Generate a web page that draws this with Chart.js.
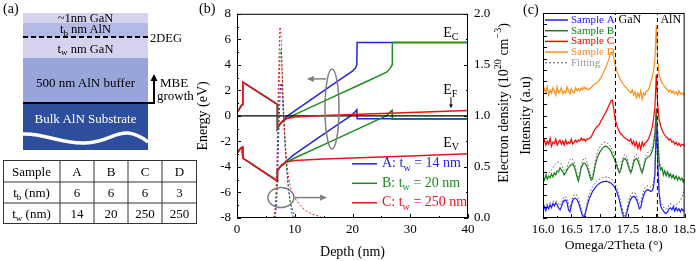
<!DOCTYPE html>
<html>
<head>
<meta charset="utf-8">
<script src="https://cdn.jsdelivr.net/npm/chart.js@4.4.0/dist/chart.umd.min.js"></script>
<style>
html, body { margin: 0; padding: 0; background: #fff; }
body { width: 700px; height: 261px; position: relative; overflow: hidden; font-family: "Liberation Serif", serif; }
#schem { position: absolute; left: 0; top: 0; }
#bandWrap { position: absolute; left: 180px; top: 0; width: 338px; height: 261px; }
#xrdWrap { position: absolute; left: 518px; top: 0; width: 182px; height: 261px; }
.plabel { position: absolute; font-size: 14px; line-height: 14px; }
</style>
</head>
<body>
<div id="bandWrap"><canvas id="bandChart"></canvas></div>
<div id="xrdWrap"><canvas id="xrdChart"></canvas></div>
<div class="plabel" style="left:199px;top:2px">(b)</div>
<div class="plabel" style="left:523px;top:3px">(c)</div>

<svg id="schem" width="200" height="261" font-family="Liberation Serif, serif">
  <text x="3" y="13" font-size="14">(a)</text>
  <rect x="23" y="13" width="125" height="10" fill="#d6d3ef"/>
  <rect x="23" y="23" width="125" height="14" fill="#b5b9e6"/>
  <rect x="23" y="37" width="125" height="21" fill="#d6d3ef"/>
  <rect x="23" y="58" width="125" height="45" fill="#98a5db"/>
  <rect x="23" y="103" width="125" height="47" fill="#2d4e9d"/>
  <path d="M23,134 C45,133 60,144 85,143 C108,142 114,132 128,133 C138,134 144,139 148,142" stroke="#fff" stroke-width="3.5" fill="none"/>
  <text x="85.5" y="21.5" font-size="12.5" text-anchor="middle">~1nm GaN</text>
  <text x="85.5" y="33" font-size="12.5" text-anchor="middle">t<tspan dy="2.5" font-size="9">b</tspan><tspan dy="-2.5"> nm AlN</tspan></text>
  <line x1="23" y1="37" x2="150" y2="37" stroke="#000" stroke-width="2" stroke-dasharray="5,3"/>
  <text x="150" y="41.5" font-size="12.5">2DEG</text>
  <text x="85.5" y="52.5" font-size="12.5" text-anchor="middle">t<tspan dy="2.5" font-size="9">w</tspan><tspan dy="-2.5"> nm GaN</tspan></text>
  <text x="85.5" y="86.5" font-size="13" text-anchor="middle">500 nm AlN buffer</text>
  <polyline points="23,103 154,103 154,80" stroke="#000" stroke-width="2" fill="none"/>
  <polygon points="150.5,81 157.5,81 154,74" fill="#000"/>
  <text x="160" y="87" font-size="13">MBE</text>
  <text x="157" y="100" font-size="13">growth</text>
  <text x="85.5" y="122.5" font-size="13" fill="#fff" text-anchor="middle">Bulk AlN Substrate</text>

  <rect x="3.5" y="160.5" width="193" height="63" fill="none" stroke="#333"/>
  <line x1="3.5" y1="182" x2="196.5" y2="182" stroke="#333"/>
  <line x1="3.5" y1="203" x2="196.5" y2="203" stroke="#333"/>
  <line x1="60" y1="160.5" x2="60" y2="223.5" stroke="#333"/>
  <line x1="94" y1="160.5" x2="94" y2="223.5" stroke="#333"/>
  <line x1="128" y1="160.5" x2="128" y2="223.5" stroke="#333"/>
  <line x1="162" y1="160.5" x2="162" y2="223.5" stroke="#333"/>
  <g font-size="13" text-anchor="middle">
    <text x="31.5" y="175.5">Sample</text>
    <text x="77" y="175.5">A</text><text x="111" y="175.5">B</text><text x="145" y="175.5">C</text><text x="179.5" y="175.5">D</text>
    <text x="31.5" y="197">t<tspan dy="2.5" font-size="9">b</tspan><tspan dy="-2.5"> (nm)</tspan></text>
    <text x="77" y="197">6</text><text x="111" y="197">6</text><text x="145" y="197">6</text><text x="179.5" y="197">3</text>
    <text x="31.5" y="218">t<tspan dy="2.5" font-size="9">w</tspan><tspan dy="-2.5"> (nm)</tspan></text>
    <text x="77" y="218">14</text><text x="111" y="218">20</text><text x="145" y="218">250</text><text x="179.5" y="218">250</text>
  </g>
</svg>

<script>
// ---- (b) band diagram data ----
// GaN cap + AlN barrier, shared by all samples
const capDepth = [0, 0.3, 0.6, 0.9, 1.0, 1.0, 7.0, 7.0];
const capEc = [0.3, 0.45, 0.7, 0.9, 0.95, 2.65, 0.9, -1.0];
const capEv = [-2.9, -2.75, -2.55, -2.45, -2.4, -3.3, -5.1, -4.3];

// GaN channel + AlN buffer per sample
const depthA = [7.3, 7.8, 8.5, 10, 14, 18, 20, 20.5, 20.75, 20.8, 40];
const ecA = [-0.75, -0.45, -0.1, 0.4, 1.65, 2.9, 3.5, 3.75, 4.0, 5.75, 5.75];
const evA = [-4.1, -3.85, -3.55, -3.0, -1.75, -0.5, 0.1, 0.35, 0.48, -0.22, -0.22];

const depthB = [7.3, 7.8, 8.5, 10, 16, 22, 25.9, 26.5, 26.85, 26.9, 40];
const ecB = [-0.75, -0.5, -0.25, 0.1, 1.35, 2.6, 3.42, 3.7, 4.0, 5.75, 5.75];
const evB = [-4.1, -3.9, -3.65, -3.3, -2.05, -0.8, 0.02, 0.3, 0.45, -0.26, -0.26];

const depthC = [7.3, 7.8, 8.5, 10, 15, 20, 30, 40];
const ecC = [-0.7, -0.42, -0.22, -0.08, 0.03, 0.1, 0.26, 0.43];
const evC = [-4.05, -3.8, -3.62, -3.5, -3.38, -3.3, -3.14, -2.97];

const fermiDepth = [0, 40];
const fermiLevel = [0, 0];

// electron density (1e20 cm^-3)
const densDepthA = [6.6, 6.9, 7.1, 7.3, 7.5, 7.65, 7.8, 8.0, 8.3, 8.6, 9.0, 9.4, 9.8];
const densA = [0, 0.2, 0.55, 0.95, 1.25, 1.32, 1.25, 1.05, 0.75, 0.5, 0.25, 0.08, 0];
const densDepthB = [6.5, 6.8, 7.0, 7.2, 7.4, 7.55, 7.7, 7.9, 8.2, 8.5, 8.9, 9.3, 9.8, 10.2];
const densB = [0, 0.2, 0.6, 1.1, 1.5, 1.65, 1.55, 1.25, 0.85, 0.55, 0.3, 0.15, 0.05, 0];
const densDepthC = [6.3, 6.6, 6.9, 7.1, 7.3, 7.45, 7.6, 7.8, 8.0, 8.3, 8.7, 9.2, 10, 11, 12, 13, 14, 15];
const densC = [0, 0.1, 0.5, 1.1, 1.6, 1.87, 1.8, 1.5, 1.15, 0.8, 0.5, 0.32, 0.2, 0.12, 0.07, 0.04, 0.02, 0];

const bandLegend = ['A: t|w| = 14 nm', 'B: t|w| = 20 nm', 'C: t|w| = 250 nm'];

// ---- (c) XRD data (offset log intensity, arbitrary units) ----
const omegaStart = 16.0;
const omegaStep = 0.025;
const omegaTicks = [16.0, 16.5, 17.0, 17.5, 18.0, 18.5];
const ganLine = 17.28;
const alnLine = 18.02;

const sampleA = [4, 5.5, 3.5, 6, 4.5, 6.5, 5, 7, 6, 7.5,
  6.5, 5, 4, 5.5, 7.5, 8.5, 8.8, 7.5, 4, 3,
  6, 8.5, 9.5, 9.6, 9, 7.5, 5.5, 3, 1, 0,
  2.5, 5.5, 8, 10, 11.5, 13, 14, 15, 15.8, 16.4,
  16.9, 17.3, 17.6, 17.8, 17.9, 17.9, 17.7, 17.4, 17, 16.4,
  15.6, 14.5, 13, 11, 8.5, 5.5, 2.5, 0.5, 0, 2,
  5, 7.5, 9.2, 10.2, 10.5, 10.2, 9, 7, 4.5, 5,
  8.5, 11, 12.7, 13.5, 13.8, 13.5, 13, 13.2, 15, 21,
  45, 28, 12, 6, 4.5, 3.5, 2.5, 2.3, 3, 4.5,
  5, 4, 5.5, 3.5, 5, 3.5, 4.5, 3, 4.5, 3.5,
  4];
const fitA = [6, 6.3, 6.5, 6.8, 7, 7.3, 7.6, 8, 8.3, 8.3,
  8, 7, 6, 7, 9, 10.3, 10.5, 9.5, 7, 5,
  7.5, 10, 11.3, 11.5, 11, 9.5, 7, 4.5, 2, 1,
  3.5, 7, 10, 12, 13.8, 15.2, 16.3, 17.2, 18, 18.6,
  19, 19.4, 19.7, 19.9, 20, 20, 19.8, 19.5, 19, 18.4,
  17.6, 16.5, 15, 13, 10.5, 7.5, 4.5, 2, 1, 3.5,
  7, 9.5, 11.2, 12.2, 12.5, 12.2, 11, 9, 7, 7.5,
  10.5, 13, 14.7, 15.5, 15.8, 15.5, 15, 15.2, 17, 23,
  47, 30, 14, 8, 6.5, 5.5, 4.5, 4.3, 5, 6.3,
  7, 6.8, 6.3, 6, 6.5, 7, 7.5, 8.5, 10, 12,
  14];
const sampleB = [20, 18.5, 21, 19, 20.5, 19.5, 21.5, 20, 22, 21,
  23, 22.5, 24.5, 23.5, 22.5, 21, 22, 23.5, 24.5, 25.5,
  26, 26.5, 25, 23, 20, 18, 21, 24.5, 26, 26.7,
  26.5, 25, 23, 20.5, 18.5, 19, 22.5, 26, 28.5, 30.5,
  32, 33, 34, 34.7, 35, 34.8, 34.3, 33.5, 32.5, 31,
  29.5, 27.5, 25.5, 23.5, 22, 23.5, 27, 28.8, 29, 28,
  26, 23.5, 22, 24, 27, 28.7, 29, 28, 26, 23.5,
  22, 24.5, 27.5, 29, 29.8, 30, 31, 32.5, 35, 41,
  53, 40, 27, 23.5, 24.5, 21, 23, 20.5, 22.5, 20,
  21.5, 19.5, 21, 19, 20.5, 18.5, 20, 18.5, 19.5, 17.5,
  19];
const fitB = [20, 20.5, 21, 21.5, 22, 22.5, 23.5, 24.5, 25.5, 26.5,
  27, 27.3, 27, 26, 24.5, 23, 23, 25, 27, 28.5,
  29, 28.5, 27, 24.5, 21.5, 19.5, 22, 25.5, 28, 29.3,
  29, 27.5, 25, 22, 19.5, 20.5, 24, 28, 31, 33,
  34.5, 35.5, 36.3, 36.8, 37, 36.8, 36.3, 35.5, 34.5, 33,
  31.3, 29.3, 27, 24.5, 22.5, 24.5, 28.5, 30.5, 31, 30,
  27.5, 24.5, 22.5, 25, 28.5, 30.5, 31, 30, 27.5, 24.5,
  22.5, 25.5, 29, 31, 32, 32.3, 33, 34.5, 37, 43,
  54, 42, 29, 25, 24, 23.5, 23, 22.5, 22, 21.5,
  21, 20.8, 20.5, 20.2, 20, 19.8, 19.5, 19.3, 19, 18.8,
  18.5];
const sampleC = [36, 38, 35.5, 37.5, 36, 39, 35, 37, 36.5, 38.5,
  35.5, 37, 38, 36, 37.5, 35.5, 38, 36, 37, 36.5,
  38.5, 36, 37, 38, 37, 38, 37.5, 39, 38, 38.5,
  37.5, 38.5, 38.5, 39, 39.5, 41, 42.5, 43.5, 44.5, 45,
  46, 47.5, 48.5, 50, 51, 52.5, 54, 55.5, 57, 57.5,
  53, 48, 45.5, 43.5, 42, 41, 40.5, 39.5, 39, 38.5,
  38, 37.5, 38.5, 36, 37.5, 35, 37, 34, 36.5, 33.5,
  37, 35, 36.5, 37, 38, 39.5, 41.5, 44, 48, 54,
  70, 55, 48, 45, 43, 41.5, 40.5, 39.5, 39, 38,
  38.5, 37, 37.5, 36, 37, 35.5, 36.5, 35, 36, 35.5,
  36];
const sampleD = [60.5, 63, 61, 64, 60, 62.5, 61, 63.5, 62, 60,
  64, 61, 62, 63.5, 60.5, 62, 61, 64, 62, 60.5,
  63, 61.5, 61, 63.5, 62, 63, 62, 63.5, 62.5, 64,
  63, 63.5, 62.5, 63, 63.5, 64.5, 65, 65.5, 66, 66.5,
  67.5, 68.5, 70, 71.5, 73, 74.5, 76.5, 78.5, 80.5, 81,
  78, 74.5, 72, 70, 68.5, 67, 66, 65, 64, 63.5,
  62.5, 62, 61, 62.5, 60, 61.5, 58.5, 61, 59, 62,
  58, 61, 60, 62, 62, 63.5, 66, 68.5, 71.5, 77,
  94, 76, 70, 67.5, 66, 65, 64, 63, 62.5, 61.5,
  62.5, 61, 62, 60.5, 61.5, 60, 62, 60.5, 61, 60,
  61];

const xrdLegend = ['Sample A', 'Sample B', 'Sample C', 'Sample D', 'Fitting'];

// ---- helpers ----
Chart.defaults.font.family = '"Liberation Serif", "Times New Roman", serif';
Chart.defaults.font.size = 13;
Chart.defaults.color = '#000';

const FONT = '"Liberation Serif", serif';
const pts = (xs, ys) => xs.map((x, i) => ({ x, y: ys[i] }));

function drawRuns(ctx, x, y, items, size, color, measureOnly) {
  let cx = x;
  items.forEach(([txt, kind]) => {
    const fs = kind ? size * 0.72 : size;
    const dy = kind === 'sub' ? size * 0.3 : kind === 'sup' ? -size * 0.38 : 0;
    ctx.font = fs + 'px ' + FONT;
    if (!measureOnly) { ctx.fillStyle = color; ctx.fillText(txt, cx, y + dy); }
    cx += ctx.measureText(txt).width;
  });
  return cx - x;
}
function subParts(label) {
  const p = label.split('|');
  return [[p[0]], [p[1], 'sub'], [p[2]]];
}
function arrow(ctx, x1, y1, x2, y2, color, head) {
  const ang = Math.atan2(y2 - y1, x2 - x1);
  ctx.strokeStyle = color; ctx.fillStyle = color;
  ctx.beginPath(); ctx.moveTo(x1, y1);
  ctx.lineTo(x2 - Math.cos(ang) * head, y2 - Math.sin(ang) * head); ctx.stroke();
  ctx.beginPath(); ctx.moveTo(x2, y2);
  ctx.lineTo(x2 - Math.cos(ang) * head - Math.sin(ang) * head * 0.45, y2 - Math.sin(ang) * head + Math.cos(ang) * head * 0.45);
  ctx.lineTo(x2 - Math.cos(ang) * head + Math.sin(ang) * head * 0.45, y2 - Math.sin(ang) * head - Math.cos(ang) * head * 0.45);
  ctx.closePath(); ctx.fill();
}

const inwardTicks = {
  id: 'inwardTicks',
  afterDraw(chart, args, opts) {
    const { ctx, chartArea: a } = chart;
    ctx.save();
    ctx.strokeStyle = '#000';
    ctx.lineWidth = 1;
    ctx.strokeRect(a.left + 0.5, a.top + 0.5, a.right - a.left - 1, a.bottom - a.top - 1);
    Object.values(chart.scales).forEach(scale => {
      const vals = scale.ticks.map(t => t.value);
      const marks = [];
      vals.forEach((v, i) => {
        marks.push([v, 4]);
        if (opts.minor[scale.id] && i < vals.length - 1) marks.push([(v + vals[i + 1]) / 2, 2]);
      });
      marks.forEach(([v, len]) => {
        const p = Math.round(scale.getPixelForValue(v)) + 0.5;
        ctx.beginPath();
        if (scale.position === 'bottom') { ctx.moveTo(p, a.bottom); ctx.lineTo(p, a.bottom - len); }
        else if (scale.position === 'left') { ctx.moveTo(a.left, p); ctx.lineTo(a.left + len, p); }
        else { ctx.moveTo(a.right, p); ctx.lineTo(a.right - len, p); }
        ctx.stroke();
      });
    });
    ctx.restore();
  }
};

// ---- (b) chart ----
const cA = '#2424d8', cB = '#1e8c1e', cC = '#e8141c';
const band = (xs, ys, color, extra) => Object.assign({
  data: pts(xs, ys), borderColor: color, borderWidth: 1.5, pointRadius: 0, tension: 0, yAxisID: 'y'
}, extra || {});
const dens = (xs, ys, color) => band(xs, ys, color, {
  yAxisID: 'y2', borderWidth: 1, borderDash: [2, 2], cubicInterpolationMode: 'monotone'
});

const bandDecor = {
  id: 'bandDecor',
  afterDraw(chart) {
    const { ctx, chartArea: a } = chart;
    const x = chart.scales.x, y = chart.scales.y;
    ctx.save();
    // ellipses with arrows
    ctx.strokeStyle = '#7f7f7f'; ctx.lineWidth = 1.5;
    ctx.beginPath();
    ctx.ellipse(x.getPixelForValue(16.45), y.getPixelForValue(0.55), 7, 40, 0, 0, Math.PI * 2);
    ctx.stroke();
    arrow(ctx, x.getPixelForValue(15.4), y.getPixelForValue(2.9), x.getPixelForValue(12.1), y.getPixelForValue(2.9), '#7f7f7f', 7);
    ctx.beginPath();
    ctx.ellipse(x.getPixelForValue(7.6), y.getPixelForValue(-6.4), 13, 10, 0, 0, Math.PI * 2);
    ctx.stroke();
    arrow(ctx, x.getPixelForValue(10.0), y.getPixelForValue(-6.4), x.getPixelForValue(15.6), y.getPixelForValue(-6.4), '#7f7f7f', 7);
    // band labels
    ctx.textBaseline = 'middle';
    const lx = x.getPixelForValue(35.7);
    drawRuns(ctx, lx, y.getPixelForValue(6.45), [['E'], ['C', 'sub']], 14, '#000');
    drawRuns(ctx, lx, y.getPixelForValue(2.0), [['E'], ['F', 'sub']], 14, '#000');
    drawRuns(ctx, lx, y.getPixelForValue(-2.15), [['E'], ['V', 'sub']], 14, '#000');
    ctx.lineWidth = 1;
    arrow(ctx, x.getPixelForValue(37.05), y.getPixelForValue(1.45), x.getPixelForValue(37.05), y.getPixelForValue(0.6), '#000', 4);
    // legend
    [cA, cB, cC].forEach((c, i) => {
      const ly = a.top + 150 + i * 19.5;
      ctx.strokeStyle = c; ctx.lineWidth = 1.5;
      ctx.beginPath(); ctx.moveTo(a.left + 115, ly); ctx.lineTo(a.left + 140, ly); ctx.stroke();
      drawRuns(ctx, a.left + 145, ly, subParts(bandLegend[i]), 14, c);
    });
    // right axis title
    ctx.translate(a.right + 36, (a.top + a.bottom) / 2 - 13);
    ctx.rotate(-Math.PI / 2);
    const items = [['Electron density (10'], ['20', 'sup'], [' cm'], ['\u22123', 'sup'], [')']];
    const w = drawRuns(ctx, 0, 0, items, 14, '#000', true);
    drawRuns(ctx, -w / 2, 0, items, 14, '#000');
    ctx.restore();
  }
};

new Chart(document.getElementById('bandChart'), {
  type: 'line',
  data: {
    datasets: [
      dens(densDepthC, densC, cC),
      dens(densDepthB, densB, cB),
      dens(densDepthA, densA, cA),
      band(capDepth.concat(depthC), capEc.concat(ecC), cC),
      band(capDepth.concat(depthC), capEv.concat(evC), cC),
      band(fermiDepth, fermiLevel, '#000', { borderWidth: 1.2 }),
      band(capDepth.concat(depthB), capEc.concat(ecB), cB),
      band(capDepth.concat(depthB), capEv.concat(evB), cB),
      band(capDepth.concat(depthA), capEc.concat(ecA), cA),
      band(capDepth.concat(depthA), capEv.concat(evA), cA)
    ]
  },
  options: {
    responsive: true,
    maintainAspectRatio: false,
    animation: false,
    events: [],
    layout: { padding: { left: 15, top: 13, right: 0, bottom: 0 } },
    plugins: { legend: { display: false }, tooltip: { enabled: false }, inwardTicks: { minor: { x: true, y: true, y2: true } } },
    scales: {
      x: {
        type: 'linear', min: 0, max: 40,
        grid: { display: false, drawTicks: false }, border: { display: false },
        ticks: { stepSize: 10, padding: 4, maxRotation: 0 },
        title: { display: true, text: 'Depth (nm)', font: { size: 14 }, padding: { top: 0, bottom: 0 } },
        afterFit: s => { s.height = 43; }
      },
      y: {
        position: 'left', min: -8, max: 8,
        grid: { display: false, drawTicks: false }, border: { display: false },
        ticks: { stepSize: 2, padding: 6 },
        title: { display: true, text: 'Energy (eV)', font: { size: 14 }, padding: { top: 0, bottom: 0 } },
        afterFit: s => { s.width = 42; }
      },
      y2: {
        position: 'right', min: 0, max: 2,
        grid: { display: false, drawTicks: false }, border: { display: false },
        ticks: { stepSize: 0.5, padding: 6, callback: v => v.toFixed(1) },
        afterFit: s => { s.width = 50; }
      }
    }
  },
  plugins: [inwardTicks, bandDecor]
});

// ---- (c) chart ----
const omegaGrid = sampleA.map((_, i) => +(omegaStart + i * omegaStep).toFixed(3));
const xA = '#1a1aff', xB = '#168016', xC = '#ff0000', xD = '#ff8c1a', xFit = '#555';
const xrd = (ys, color, extra) => Object.assign({
  data: pts(omegaGrid, ys), borderColor: color, borderWidth: 1.2, pointRadius: 0, tension: 0
}, extra || {});
const vline = xv => ({
  data: [{ x: xv, y: 0 }, { x: xv, y: 100 }], borderColor: '#000', borderWidth: 1, borderDash: [4, 3], pointRadius: 0
});

const xrdDecor = {
  id: 'xrdDecor',
  afterDraw(chart) {
    const { ctx, chartArea: a } = chart;
    const x = chart.scales.x;
    ctx.save();
    ctx.textBaseline = 'middle';
    const cols = [xA, xB, xC, xD, xFit];
    const txtCols = [xA, xB, xC, xD, '#999'];
    xrdLegend.forEach((lab, i) => {
      const ly = a.top + 7 + i * 10.7;
      ctx.strokeStyle = cols[i]; ctx.lineWidth = i === 4 ? 1 : 1.5;
      ctx.setLineDash(i === 4 ? [2, 2] : []);
      ctx.beginPath(); ctx.moveTo(a.left + 2, ly); ctx.lineTo(a.left + 25, ly); ctx.stroke();
      ctx.font = '11px ' + FONT; ctx.fillStyle = txtCols[i];
      ctx.fillText(lab, a.left + 28, ly);
    });
    ctx.font = '12px ' + FONT; ctx.fillStyle = '#000';
    ctx.fillText('GaN', x.getPixelForValue(ganLine) + 3, a.top + 7);
    ctx.fillText('AlN', x.getPixelForValue(alnLine) + 3, a.top + 7);
    ctx.restore();
  }
};

new Chart(document.getElementById('xrdChart'), {
  type: 'line',
  data: {
    datasets: [
      xrd(fitA, xFit, { borderWidth: 1, borderDash: [1.5, 2] }),
      xrd(fitB, xFit, { borderWidth: 1, borderDash: [1.5, 2] }),
      vline(ganLine),
      vline(alnLine),
      xrd(sampleD, xD),
      xrd(sampleC, xC),
      xrd(sampleB, xB),
      xrd(sampleA, xA)
    ]
  },
  options: {
    responsive: true,
    maintainAspectRatio: false,
    animation: false,
    events: [],
    layout: { padding: { left: 0, top: 13, right: 12, bottom: 0 } },
    plugins: { legend: { display: false }, tooltip: { enabled: false }, inwardTicks: { minor: { x: true, y: false } } },
    scales: {
      x: {
        type: 'linear', min: 16, max: 18.5,
        grid: { display: false, drawTicks: false }, border: { display: false },
        afterBuildTicks: s => { s.ticks = omegaTicks.map(v => ({ value: v })); },
        ticks: { padding: 4, maxRotation: 0, autoSkip: false, callback: v => v.toFixed(1) },
        title: { display: true, text: 'Omega/2Theta (\u00b0)', font: { size: 13.5 }, padding: { top: 0, bottom: 7 } },
        afterFit: s => { s.height = 43; }
      },
      y: {
        min: 0, max: 100,
        grid: { display: false, drawTicks: false }, border: { display: false },
        afterBuildTicks: s => { s.ticks = Array.from({ length: 19 }, (_, i) => ({ value: i * 100 / 18 })); },
        ticks: { display: false },
        title: { display: true, text: 'Intensity (a.u)', font: { size: 14 }, padding: { top: 0, bottom: 0 } },
        afterFit: s => { s.width = 25; }
      }
    }
  },
  plugins: [inwardTicks, xrdDecor]
});
</script>
</body>
</html>
